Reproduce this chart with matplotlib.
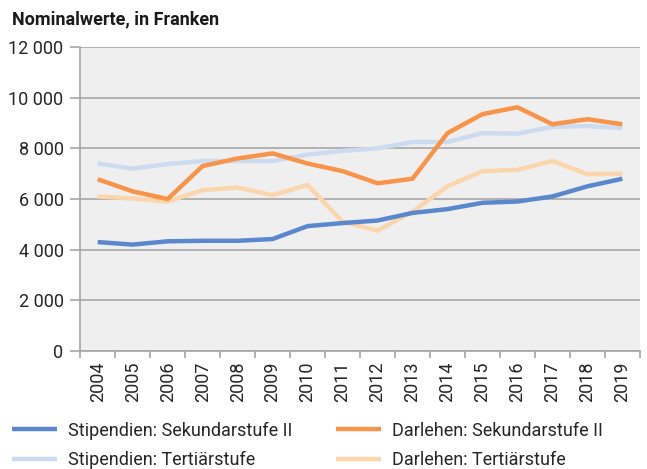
import matplotlib
matplotlib.use("Agg")
import matplotlib.pyplot as plt
import numpy as np

plt.rcParams['font.family'] = ['Roboto', 'DejaVu Sans']

years = [str(y) for y in range(2004, 2020)]

stip_sek2 = [4300, 4200, 4330, 4350, 4350, 4420, 4930, 5050, 5150, 5450, 5600, 5850, 5900, 6100, 6500, 6800]
stip_tert = [7400, 7200, 7380, 7500, 7500, 7500, 7750, 7900, 8000, 8250, 8250, 8600, 8580, 8850, 8880, 8800]
darl_sek2 = [6780, 6300, 6000, 7300, 7600, 7800, 7400, 7100, 6620, 6800, 8600, 9350, 9620, 8950, 9150, 8950]
darl_tert = [6100, 6020, 5900, 6350, 6450, 6150, 6550, 5100, 4750, 5500, 6500, 7100, 7150, 7500, 6980, 7000]

labels = ["Stipendien: Sekundarstufe II", "Stipendien: Tertiärstufe",
          "Darlehen: Sekundarstufe II", "Darlehen: Tertiärstufe"]
colors = ["#5B88CC", "#CDDBF1", "#F7944A", "#FBD5AC"]
txt_color = "#262626"

fig = plt.figure(figsize=(6.47, 4.69), dpi=100)
ax = fig.add_axes([0.124, 0.2516, 0.865, 0.6482])
ax.set_facecolor("#EFEFEF")

x = np.arange(len(years))
series = [stip_sek2, stip_tert, darl_sek2, darl_tert]
handles = {}
# light lines first so the darker ones sit on top
for i in [1, 3, 0, 2]:
    h, = ax.plot(x, series[i], color=colors[i], lw=3.2, label=labels[i], solid_capstyle='butt', zorder=3)
    handles[i] = h

ax.set_xlim(-0.5, len(years) - 0.5)
ax.set_ylim(0, 12000)
yt = list(range(0, 12001, 2000))
ax.set_yticks(yt)
ax.set_yticklabels([f"{v:,}".replace(",", " ") for v in yt])
ax.yaxis.grid(True, color="#A6A6A6", lw=1.2)
ax.set_axisbelow(True)

ax.set_xticks(x)
ax.set_xticklabels(years, rotation=90)
ax.set_xticks(np.arange(-0.5, len(years), 1), minor=True)
ax.tick_params(axis='x', which='major', length=0, pad=7.5)
ax.tick_params(axis='x', which='minor', length=5, color="#A6A6A6", width=1.2)
ax.tick_params(axis='y', length=7, color="#A6A6A6", width=1.2, pad=5)
for lab in ax.get_xticklabels() + ax.get_yticklabels():
    lab.set_fontsize(13)
    lab.set_color(txt_color)

for s in ['top', 'right']:
    ax.spines[s].set_visible(False)
for s in ['left', 'bottom']:
    ax.spines[s].set_color("#A6A6A6")
    ax.spines[s].set_linewidth(1.2)

fig.text(0.018, 0.948, "Nominalwerte, in Franken", fontsize=13, fontweight='bold', color="#1a1a1a")

leg = fig.legend(handles=[handles[i] for i in range(4)], labels=labels, ncol=2, loc='lower left',
                 bbox_to_anchor=(0.018, 0.0), frameon=False, borderpad=0, borderaxespad=0,
                 prop={'size': 13},
                 handlelength=2.5, handletextpad=0.6, columnspacing=2.45, labelspacing=0.62)
for t in leg.get_texts():
    t.set_color(txt_color)

fig.savefig("out.png", dpi=100)
